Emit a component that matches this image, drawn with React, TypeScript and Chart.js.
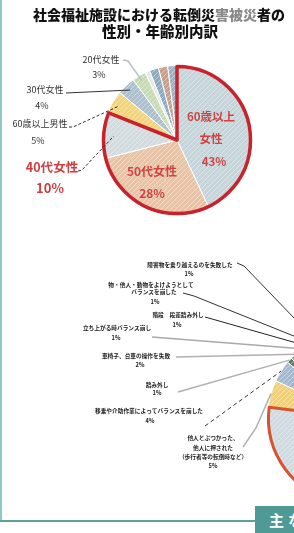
import React, { useEffect, useRef } from "react";
import { Chart, registerables } from "chart.js";

Chart.register(...registerables);

// ---------- data: 性別・年齢別内訳 (top pie) ----------
const ageCategories = ["60歳以上女性", "50代女性", "40代女性", "60歳以上男性", "30代女性", "20代女性", "10代女性", "50代男性", "40代男性", "30代以下男性"];
const ageValues = [43, 28, 10, 5, 4, 3, 1, 2, 2, 2];
const ageColors = ["#c5d5da", "#e8c3a6", "#d2dcdf", "#f1d47c", "#adc0ce", "#c9dbb6", "#e4e9e1", "#8eaac2", "#c7a08a", "#9db3c3"];

// ---------- data: 事故の型・原因 (bottom pie, mostly cut off) ----------
const causeCategories = [
  "つまずき",
  "滑り",
  "他人とぶつかった、\n他人に押された\n（歩行者等の転倒時など）",
  "移乗や介助作業によってバランスを崩した",
  "踏み外し",
  "車椅子、台車の操作を失敗",
  "立ち上がる時バランス崩し",
  "階段　段差踏み外し",
  "物・他人・動物をよけようとして\nバランスを崩した",
  "障害物を乗り越えるのを失敗した",
  "その他",
];
const causeValues = [40, 37, 5, 4, 1, 2, 1, 1, 1, 1, 7];
const causeColors = ["#e7c4a8", "#cfdbe0", "#f1d077", "#a5b9d0", "#5e8060", "#86a97a", "#b9cda6", "#7f9bb6", "#c9a38c", "#9fb4c2", "#dde4e6"];

const FONT = "'Noto Sans CJK JP', 'Noto Sans', sans-serif";
const pct = (v: number) => `${v}%`;

type Lead = { pts: [number, number][]; color: string; dash?: number[]; f?: number; w?: number };
type LabelSpec = { i: number; lines: string[]; pos: [number, number][]; fonts: string[]; color: string; lead?: Lead };

const topLabels: LabelSpec[] = [
  { i: 0, lines: [ageCategories[0].slice(0, 5), ageCategories[0].slice(5), pct(ageValues[0])], pos: [[211, 117], [211, 139], [214, 162]], fonts: [`bold 11.5px ${FONT}`], color: "#cf4443" },
  { i: 1, lines: [ageCategories[1], pct(ageValues[1])], pos: [[152, 171], [152, 193]], fonts: [`bold 12px ${FONT}`], color: "#cf4443" },
  { i: 5, lines: [ageCategories[5], pct(ageValues[5])], pos: [[101, 60], [99, 75]], fonts: [`9px ${FONT}`], color: "#333", lead: { pts: [[123, 60], [128, 61]], color: "#b5c2c2", f: 0.93, w: 1.5 } },
  { i: 4, lines: [ageCategories[4], pct(ageValues[4])], pos: [[45, 90], [42, 106]], fonts: [`9px ${FONT}`], color: "#333", lead: { pts: [[66, 93]], color: "#333", f: 0.92 } },
  { i: 3, lines: [ageCategories[3], pct(ageValues[3])], pos: [[40, 124], [38, 141]], fonts: [`9px ${FONT}`], color: "#333", lead: { pts: [[69, 127], [73, 127]], color: "#333", dash: [3, 2], f: 0.9 } },
  { i: 2, lines: [ageCategories[2], pct(ageValues[2])], pos: [[52, 167], [50, 188]], fonts: [`bold 12.5px ${FONT}`, `bold 13px ${FONT}`], color: "#d23b3f", lead: { pts: [[78, 171], [82, 170]], color: "#333", dash: [3, 2], f: 0.85 } },
];

const cl = (i: number) => [...causeCategories[i].split("\n"), pct(causeValues[i])];
const SF = `bold 5.7px ${FONT}`;
const bottomLabels: LabelSpec[] = [
  { i: 9, lines: cl(9), pos: [[190, 265], [189, 274]], fonts: [SF], color: "#222", lead: { pts: [[237, 263], [244, 266]], color: "#333" } },
  { i: 8, lines: cl(8), pos: [[151, 285], [154, 292], [155, 302]], fonts: [SF], color: "#222", lead: { pts: [[183, 293], [194, 296]], color: "#333" } },
  { i: 7, lines: cl(7), pos: [[178, 315], [177, 325]], fonts: [SF], color: "#222", lead: { pts: [[205, 317]], color: "#222" } },
  { i: 6, lines: cl(6), pos: [[117, 328], [116, 338]], fonts: [SF], color: "#222", lead: { pts: [[152, 337]], color: "#a9a9a9", w: 1.5 } },
  { i: 5, lines: cl(5), pos: [[136, 356], [140, 365]], fonts: [SF], color: "#222", lead: { pts: [[176, 357]], color: "#b0b0b0", w: 1.5 } },
  { i: 4, lines: cl(4), pos: [[157, 385], [157, 393]], fonts: [SF], color: "#222", lead: { pts: [[178, 392]], color: "#b0b0b0", w: 1.5 } },
  { i: 3, lines: cl(3), pos: [[149, 411], [150, 421]], fonts: [SF], color: "#222", lead: { pts: [[205, 426]], color: "#333", dash: [4, 3] } },
  { i: 2, lines: cl(2), pos: [[213, 438], [213, 448], [213, 457], [213, 466]], fonts: [SF], color: "#222", lead: { pts: [[243, 447], [256, 428]], color: "#b0b0b0", w: 1.5 } },
];

function hatch(color: string): CanvasPattern | string {
  const c = document.createElement("canvas");
  c.width = 5;
  c.height = 5;
  const g = c.getContext("2d");
  if (!g) return color;
  g.fillStyle = color;
  g.fillRect(0, 0, 5, 5);
  g.strokeStyle = "rgba(255,255,255,0.4)";
  g.lineWidth = 1;
  g.beginPath();
  g.moveTo(-1, 6);
  g.lineTo(6, -1);
  g.stroke();
  return g.createPattern(c, "repeat") || color;
}

function labelsPlugin(id: string, specs: LabelSpec[]) {
  return {
    id,
    afterDatasetsDraw(chart: any) {
      const ctx: CanvasRenderingContext2D = chart.ctx;
      const meta = chart.getDatasetMeta(0);
      specs.forEach((s) => {
        const arc: any = meta.data[s.i];
        if (s.lead && arc) {
          const mid = (arc.startAngle + arc.endAngle) / 2;
          const r = arc.outerRadius * (s.lead.f ?? 1);
          const ex = arc.x + Math.cos(mid) * r;
          const ey = arc.y + Math.sin(mid) * r;
          ctx.save();
          ctx.strokeStyle = s.lead.color;
          ctx.lineWidth = s.lead.w ?? 1;
          ctx.setLineDash(s.lead.dash ?? []);
          ctx.beginPath();
          s.lead.pts.forEach((p, k) => (k === 0 ? ctx.moveTo(p[0], p[1]) : ctx.lineTo(p[0], p[1])));
          ctx.lineTo(ex, ey);
          ctx.stroke();
          ctx.restore();
        }
        ctx.save();
        ctx.fillStyle = s.color;
        ctx.textAlign = "center";
        ctx.textBaseline = "middle";
        s.lines.forEach((t, k) => {
          ctx.font = s.fonts[Math.min(k, s.fonts.length - 1)];
          ctx.fillText(t, s.pos[k][0], s.pos[k][1]);
        });
        ctx.restore();
      });
    },
  };
}

function outlinePlugin(id: string, from: number, to: number, color: string, width: number) {
  return {
    id,
    afterDatasetsDraw(chart: any) {
      const ctx: CanvasRenderingContext2D = chart.ctx;
      const meta = chart.getDatasetMeta(0);
      const a: any = meta.data[from];
      const b: any = meta.data[to];
      if (!a || !b) return;
      ctx.save();
      ctx.strokeStyle = color;
      ctx.lineWidth = width;
      ctx.lineJoin = "round";
      ctx.beginPath();
      ctx.moveTo(a.x, a.y);
      ctx.arc(a.x, a.y, a.outerRadius - 1, a.startAngle, b.endAngle);
      ctx.closePath();
      ctx.stroke();
      ctx.restore();
    },
  };
}

export default function App() {
  const topRef = useRef<HTMLCanvasElement>(null);
  const botRef = useRef<HTMLCanvasElement>(null);

  useEffect(() => {
    document.body.style.margin = "0";
    document.body.style.overflow = "hidden";
    const common = {
      responsive: false,
      animation: false as const,
      devicePixelRatio: 1,
      events: [] as any[],
    };
    const topChart = new Chart(topRef.current!, {
      type: "pie",
      data: {
        labels: ageCategories,
        datasets: [{ data: ageValues, backgroundColor: ageColors.map(hatch) as any, borderColor: "#ffffff", borderWidth: 1 }],
      },
      options: {
        ...common,
        layout: { padding: { left: 102, right: 42, top: 65, bottom: 25 } },
        plugins: { legend: { display: false }, tooltip: { enabled: false } },
      } as any,
      plugins: [outlinePlugin("topOutline", 0, 2, "#c8232c", 3.5), labelsPlugin("topLabels", topLabels)],
    });
    const botChart = new Chart(botRef.current!, {
      type: "pie",
      data: {
        labels: causeCategories,
        datasets: [{ data: causeValues, backgroundColor: causeColors.map(hatch) as any, borderColor: "#ffffff", borderWidth: 1 }],
      },
      options: {
        ...common,
        layout: { padding: { left: 267, right: 57, top: 330, bottom: 27 } },
        plugins: { legend: { display: false }, tooltip: { enabled: false } },
      } as any,
      plugins: [outlinePlugin("botOutline", 1, 1, "#d6532f", 3), labelsPlugin("botLabels", bottomLabels)],
    });
    return () => {
      topChart.destroy();
      botChart.destroy();
    };
  }, []);

  const titleStyle: React.CSSProperties = {
    position: "absolute",
    fontFamily: FONT,
    fontWeight: 900,
    fontSize: 14,
    lineHeight: "14px",
    color: "#111",
    whiteSpace: "nowrap",
  };

  return (
    <div style={{ position: "relative", width: 294, height: 533, overflow: "hidden", background: "#ffffff" }}>
      <canvas ref={botRef} width={500} height={533} style={{ position: "absolute", left: 0, top: 0 }} />
      <canvas ref={topRef} width={294} height={240} style={{ position: "absolute", left: 0, top: 0 }} />
      <div style={{ ...titleStyle, left: 33, top: 7 }}>
        社会福祉施設における転倒災<span style={{ color: "#8a8a8a" }}>害被災</span>者の
      </div>
      <div style={{ ...titleStyle, left: 102, top: 24, fontSize: 14.5 }}>性別・年齢別内訳</div>
      <div style={{ position: "absolute", left: 0, top: 0, width: 2, height: 522, background: "#93c8c4" }} />
      <div style={{ position: "absolute", left: 0, top: 520, width: 256, height: 2, background: "#5e9f9b" }} />
      <div
        style={{
          position: "absolute",
          left: 255,
          top: 506,
          width: 39,
          height: 27,
          background: "#4f9a94",
          color: "#ffffff",
          fontFamily: FONT,
          fontWeight: 700,
          fontSize: 15,
          lineHeight: "15px",
          paddingLeft: 14,
          paddingTop: 6,
          boxSizing: "border-box",
          letterSpacing: 4,
          whiteSpace: "nowrap",
        }}
      >
        主な
      </div>
    </div>
  );
}
